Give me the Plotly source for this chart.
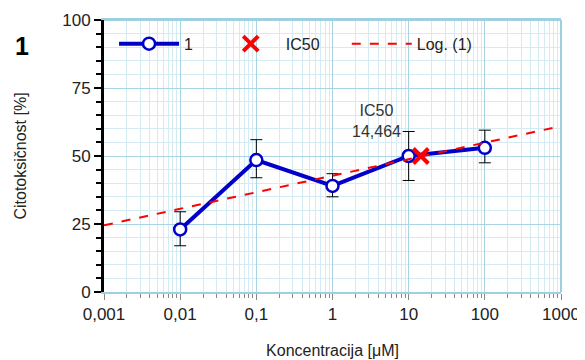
import plotly.graph_objects as go
import numpy as np

# data
conc = [0.01, 0.1, 1, 10, 100]
cyto = [23.0, 48.5, 39.0, 50.0, 53.0]
err_plus = [6.5, 7.5, 4.5, 9.0, 6.5]
err_minus = [6.0, 6.5, 4.0, 9.0, 5.5]

ic50_x = [14.464]
ic50_y = [50.0]

# logarithmic trendline y = a + b*log10(x)
fit_a = 42.75
fit_b = 6.08
fit_x = np.logspace(-3, 3, 50)
fit_y = fit_a + fit_b * np.log10(fit_x)

x_ticks = [0.001, 0.01, 0.1, 1, 10, 100, 1000]
x_text = ["0,001", "0,01", "0,1", "1", "10", "100", "1000"]

font = "Liberation Sans, Arial, sans-serif"
grid = "#d4ebf3"
nb = "\u00a0"

fig = go.Figure()

fig.add_trace(go.Scatter(
    x=conc, y=cyto, name="1" + nb * 4, mode="lines+markers",
    line=dict(color="#0000c8", width=4),
    marker=dict(symbol="circle", size=12, color="white",
                line=dict(color="#0000c8", width=2.5)),
    error_y=dict(type="data", symmetric=False, array=err_plus,
                 arrayminus=err_minus, color="black", thickness=1, width=6),
))

fig.add_trace(go.Scatter(
    x=ic50_x, y=ic50_y, name="IC50" + nb * 5, mode="markers",
    marker=dict(symbol="x-thin-open", size=15, color="red",
                line=dict(color="red", width=4)),
))

fig.add_trace(go.Scatter(
    x=fit_x, y=fit_y, name="Log. (1)", mode="lines",
    line=dict(color="red", width=2, dash="dash"),
))

fig.add_annotation(x=np.log10(ic50_x[0]) - 0.58, y=ic50_y[0] + 5,
                   text="IC50<br>14,464", showarrow=False,
                   yanchor="bottom", font=dict(size=16, color="#333333"))

fig.add_annotation(xref="paper", yref="paper", x=-0.2, y=0.965,
                   text="<b>1</b>", showarrow=False, xanchor="left", yanchor="top",
                   font=dict(size=25, color="black"))

# page body has an 8px margin, so the figure is shrunk by that amount
fig.update_layout(
    width=577, height=352,
    margin=dict(l=96, r=24, t=12, b=68),
    paper_bgcolor="white", plot_bgcolor="white",
    font=dict(family=font, size=16, color="#333333"),
    showlegend=True,
    legend=dict(orientation="h", x=0.022, y=0.975, xanchor="left", yanchor="top",
                bgcolor="rgba(0,0,0,0)", font=dict(size=16, color="#222222"),
                itemwidth=60),
    xaxis=dict(
        type="log", range=[-3, 3], automargin=False,
        tickvals=x_ticks, ticktext=x_text,
        showgrid=True, gridcolor="#a8d4e4", gridwidth=1,
        ticks="outside", ticklen=6, tickcolor="#888888",
        tickfont=dict(size=17, color="#222222"),
        showline=True, linecolor="#9fd0e0", linewidth=2, mirror=True,
        minor=dict(dtick="D1", showgrid=True, gridcolor=grid,
                   ticks="outside", ticklen=4, tickcolor="#888888"),
        title=dict(text="Koncentracija [μM]", font=dict(size=16, color="#222222"),
                   standoff=21),
        zeroline=False,
    ),
    yaxis=dict(
        range=[0, 100], tickvals=[0, 25, 50, 75, 100], automargin=False,
        showgrid=True, gridcolor="#a8d4e4", gridwidth=1,
        ticks="outside", ticklen=7, tickcolor="black", tickwidth=2,
        tickfont=dict(size=17, color="#222222"),
        showline=True, linecolor="black", linewidth=3,
        minor=dict(dtick=5, showgrid=True, gridcolor=grid,
                   ticks="outside", ticklen=5, tickcolor="black", tickwidth=2),
        title=dict(text="Citotoksičnost [%]", font=dict(size=16, color="#222222"),
                   standoff=32),
        zeroline=False,
    ),
)

fig.add_shape(type="line", xref="paper", yref="paper", x0=0, x1=1, y0=1, y1=1,
              line=dict(color="#9fd0e0", width=2))
fig.add_shape(type="line", xref="paper", yref="paper", x0=1, x1=1, y0=0, y1=1,
              line=dict(color="#9fd0e0", width=2))

fig.write_html("out.html")
